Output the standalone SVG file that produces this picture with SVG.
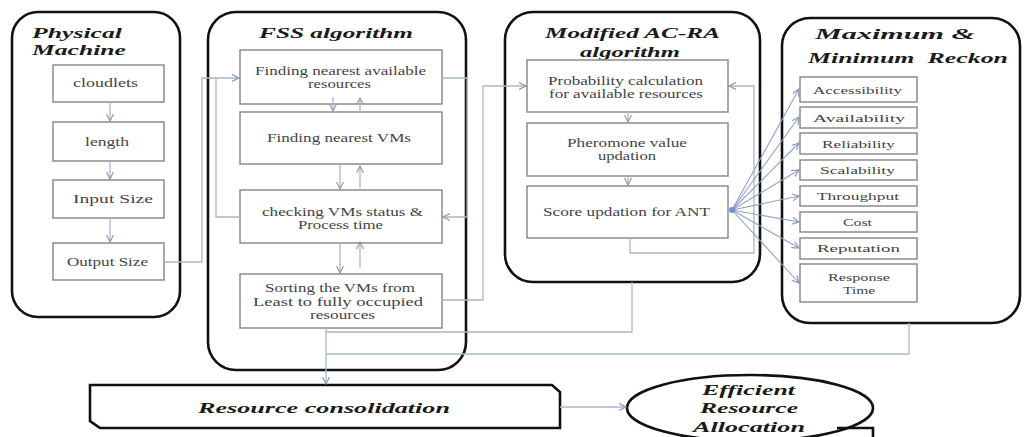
<svg xmlns="http://www.w3.org/2000/svg" width="1025" height="437" viewBox="0 0 1025 437">
<style>
.cont{fill:#fff;stroke:#111;stroke-width:2.6}
.box{fill:#fff;stroke:#8c8c8c;stroke-width:1.5}
.t{font-family:"Liberation Serif","Times New Roman",serif;font-size:11.5px;fill:#444}
.ts{font-family:"Liberation Serif","Times New Roman",serif;font-size:11px;fill:#444}
.title{font-family:"Liberation Serif","Times New Roman",serif;font-size:15px;font-weight:bold;font-style:italic;fill:#1a1a1a}
.ln{fill:none;stroke:#a9b8cb;stroke-width:1.3}
.fan{fill:none;stroke:#8da2cc;stroke-width:1.1}
</style>
<defs>
<marker id="ah" markerUnits="userSpaceOnUse" markerWidth="9" markerHeight="8" refX="7" refY="4" orient="auto">
<path d="M0,0.5 L7,4 L0,7.5" fill="none" stroke="#8a9ab0" stroke-width="1.2"/>
</marker>
</defs>
<rect width="1025" height="437" fill="#fff"/>

<g id="physical-machine">
<rect class="cont" x="12" y="12" width="168" height="305" rx="26"/>
<text class="title" x="32" y="38" textLength="90" lengthAdjust="spacingAndGlyphs">Physical</text>
<text class="title" x="32" y="55" textLength="94" lengthAdjust="spacingAndGlyphs">Machine</text>
</g>
<g id="cloudlets"><rect class="box" x="53" y="65" width="111" height="37"/><text class="t" x="73" y="87" textLength="65" lengthAdjust="spacingAndGlyphs">cloudlets</text></g>
<g id="length"><rect class="box" x="53" y="122" width="111" height="39"/><text class="t" x="85" y="146" textLength="44" lengthAdjust="spacingAndGlyphs">length</text></g>
<g id="input-size"><rect class="box" x="53" y="180" width="111" height="38"/><text class="t" x="73" y="203" textLength="80" lengthAdjust="spacingAndGlyphs">Input Size</text></g>
<g id="output-size"><rect class="box" x="53" y="243" width="111" height="37"/><text class="t" x="67" y="266" textLength="81" lengthAdjust="spacingAndGlyphs">Output Size</text></g>

<g id="fss-algorithm">
<rect class="cont" x="208" y="12" width="258" height="358" rx="28"/>
<text class="title" x="259" y="38" textLength="154" lengthAdjust="spacingAndGlyphs">FSS algorithm</text>
</g>
<g id="finding-resources"><rect class="box" x="240" y="50" width="202" height="54"/>
<text class="t" x="255" y="75" textLength="171" lengthAdjust="spacingAndGlyphs">Finding nearest available</text>
<text class="t" x="308" y="88" textLength="63" lengthAdjust="spacingAndGlyphs">resources</text></g>
<g id="finding-vms"><rect class="box" x="240" y="112" width="202" height="52"/>
<text class="t" x="267" y="142" textLength="144" lengthAdjust="spacingAndGlyphs">Finding nearest VMs</text></g>
<g id="checking-vms"><rect class="box" x="240" y="190" width="202" height="53"/>
<text class="t" x="262" y="216" textLength="161" lengthAdjust="spacingAndGlyphs">checking VMs status &amp;</text>
<text class="t" x="298" y="229" textLength="85" lengthAdjust="spacingAndGlyphs">Process time</text></g>
<g id="sorting-vms"><rect class="box" x="240" y="274" width="202" height="54"/>
<text class="t" x="265" y="292" textLength="150" lengthAdjust="spacingAndGlyphs">Sorting the VMs from</text>
<text class="t" x="253" y="306" textLength="170" lengthAdjust="spacingAndGlyphs">Least to fully occupied</text>
<text class="t" x="310" y="319" textLength="65" lengthAdjust="spacingAndGlyphs">resources</text></g>

<g id="modified-ac-ra">
<rect class="cont" x="505" y="12" width="255" height="270" rx="28"/>
<text class="title" x="545" y="38" textLength="175" lengthAdjust="spacingAndGlyphs">Modified AC-RA</text>
<text class="title" x="580" y="57" textLength="100" lengthAdjust="spacingAndGlyphs">algorithm</text>
</g>
<g id="probability-calculation"><rect class="box" x="527" y="60" width="201" height="52"/>
<text class="t" x="548" y="85" textLength="155" lengthAdjust="spacingAndGlyphs">Probability calculation</text>
<text class="t" x="549" y="98" textLength="154" lengthAdjust="spacingAndGlyphs">for available resources</text></g>
<g id="pheromone-updation"><rect class="box" x="527" y="123" width="201" height="53"/>
<text class="t" x="567" y="147" textLength="120" lengthAdjust="spacingAndGlyphs">Pheromone value</text>
<text class="t" x="598" y="160" textLength="58" lengthAdjust="spacingAndGlyphs">updation</text></g>
<g id="score-updation"><rect class="box" x="527" y="186" width="201" height="52"/>
<text class="t" x="543" y="216" textLength="167" lengthAdjust="spacingAndGlyphs">Score updation for ANT</text></g>

<g id="max-min-reckon">
<rect class="cont" x="782" y="18" width="238" height="305" rx="28"/>
<text class="title" x="815" y="39" textLength="160" lengthAdjust="spacingAndGlyphs">Maximum &amp;</text>
<text class="title" x="808" y="63" textLength="200" lengthAdjust="spacingAndGlyphs" xml:space="preserve">Minimum  Reckon</text>
</g>
<g id="accessibility"><rect class="box" x="800" y="77" width="117" height="25"/><text class="ts" x="813" y="94" textLength="89" lengthAdjust="spacingAndGlyphs">Accessibility</text></g>
<g id="availability"><rect class="box" x="800" y="107" width="117" height="21"/><text class="ts" x="813" y="122" textLength="92" lengthAdjust="spacingAndGlyphs">Availability</text></g>
<g id="reliability"><rect class="box" x="800" y="133" width="117" height="21"/><text class="ts" x="822" y="148" textLength="73" lengthAdjust="spacingAndGlyphs">Reliability</text></g>
<g id="scalability"><rect class="box" x="800" y="160" width="117" height="20"/><text class="ts" x="820" y="174" textLength="75" lengthAdjust="spacingAndGlyphs">Scalability</text></g>
<g id="throughput"><rect class="box" x="800" y="186" width="117" height="20"/><text class="ts" x="817" y="200" textLength="82" lengthAdjust="spacingAndGlyphs">Throughput</text></g>
<g id="cost"><rect class="box" x="800" y="212" width="117" height="20"/><text class="ts" x="843" y="226" textLength="29" lengthAdjust="spacingAndGlyphs">Cost</text></g>
<g id="reputation"><rect class="box" x="800" y="238" width="117" height="21"/><text class="ts" x="817" y="252" textLength="83" lengthAdjust="spacingAndGlyphs">Reputation</text></g>
<g id="response-time"><rect class="box" x="800" y="264" width="117" height="38"/>
<text class="ts" x="828" y="281" textLength="62" lengthAdjust="spacingAndGlyphs">Response</text>
<text class="ts" x="843" y="294" textLength="32" lengthAdjust="spacingAndGlyphs">Time</text></g>

<g id="resource-consolidation">
<path class="cont" d="M90,385 H552 L560,392 V428 H100 L90,421 Z"/>
<text class="title" x="198" y="413" textLength="252" lengthAdjust="spacingAndGlyphs">Resource consolidation</text>
</g>

<g id="efficient-resource-allocation">
<ellipse class="cont" cx="750" cy="408" rx="123" ry="33"/>
<path d="M837,428 H873 V437" fill="none" stroke="#111" stroke-width="2.6"/>
<text class="title" x="702" y="395" textLength="93" lengthAdjust="spacingAndGlyphs">Efficient</text>
<text class="title" x="700" y="413" textLength="98" lengthAdjust="spacingAndGlyphs">Resource</text>
<text class="title" x="693" y="432" textLength="112" lengthAdjust="spacingAndGlyphs">Allocation</text>
</g>

<g id="connectors">
<path class="ln" d="M110,102 V121" marker-end="url(#ah)"/>
<path class="ln" d="M110,161 V179" marker-end="url(#ah)"/>
<path class="ln" d="M110,218 V242" marker-end="url(#ah)"/>
<path class="ln" d="M164,262 H202 V78 H239" marker-end="url(#ah)"/>
<path class="ln" d="M240,217 H216 V78"/>
<path class="ln" d="M333,97 V111" marker-end="url(#ah)"/>
<path class="ln" d="M360,113 V98" marker-end="url(#ah)"/>
<path class="ln" d="M340,164 V189" marker-end="url(#ah)"/>
<path class="ln" d="M360,188 V166" marker-end="url(#ah)"/>
<path class="ln" d="M340,243 V273" marker-end="url(#ah)"/>
<path class="ln" d="M360,268 V242" marker-end="url(#ah)"/>
<path class="ln" d="M442,78 H467 V217 H443" marker-end="url(#ah)"/>
<path class="ln" d="M442,300 H483 V86 H526" marker-end="url(#ah)"/>
<path class="ln" d="M628,112 V122" marker-end="url(#ah)"/>
<path class="ln" d="M628,176 V185" marker-end="url(#ah)"/>
<path class="ln" d="M630,238 V253 H754 V86 H729" marker-end="url(#ah)"/>
<path class="fan" d="M732,210 L799,89" marker-end="url(#ah)"/>
<path class="fan" d="M732,210 L799,117" marker-end="url(#ah)"/>
<path class="fan" d="M732,210 L799,143" marker-end="url(#ah)"/>
<path class="fan" d="M732,210 L799,170" marker-end="url(#ah)"/>
<path class="fan" d="M732,210 L799,196" marker-end="url(#ah)"/>
<path class="fan" d="M732,210 L799,222" marker-end="url(#ah)"/>
<path class="fan" d="M732,210 L799,248" marker-end="url(#ah)"/>
<path class="fan" d="M732,210 L799,283" marker-end="url(#ah)"/>
<circle cx="732" cy="210" r="3" fill="#6f8fd0"/>
<path class="ln" d="M326,328 V384" marker-end="url(#ah)"/>
<path class="ln" d="M632,282 V332 H326"/>
<path class="ln" d="M909,323 V354 H326"/>
<path class="ln" d="M560,407 H626" marker-end="url(#ah)"/>
</g>
</svg>
